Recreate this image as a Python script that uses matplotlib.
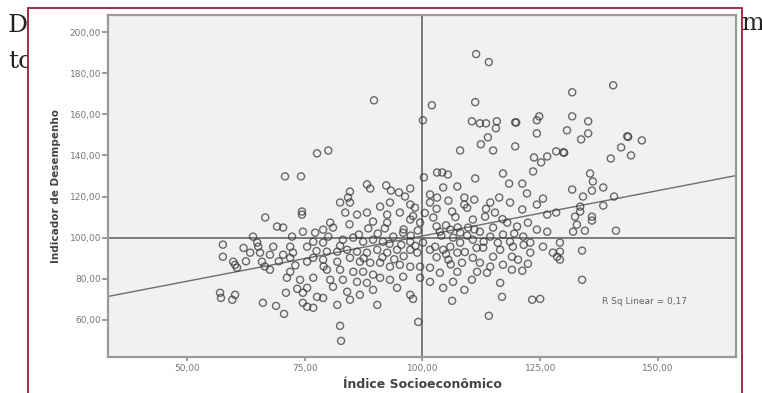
import matplotlib.pyplot as plt
import matplotlib.patches as patches
import numpy as np

# Índice Socioeconômico (x) and Indicador de Desempenho (y)
indice_socio = [
    89.7, 102.0, 100.1, 77.6, 80.0, 70.8, 74.2, 100.3, 103.1,
    88.2, 88.9, 92.3, 93.3, 95.0, 97.4, 84.6, 84.2, 96.3, 101.6, 103.1,
    111.4, 114.1, 111.2, 110.5, 112.2, 113.5, 115.8, 115.6, 119.7, 119.9, 124.3, 124.8, 124.3, 113.9,
    112.4, 115.0, 119.7, 108.0, 123.7, 126.5, 128.4, 125.2, 123.5, 117.1, 111.2, 105.4, 104.2, 107.4,
    104.4, 118.4, 121.2, 122.2, 108.9, 116.3, 125.6,
    140.5, 131.8, 131.8, 135.2, 130.7, 135.2, 133.7, 143.5, 143.7, 146.6, 142.2, 144.3, 140.0, 129.9,
    130.1, 135.6, 136.2, 138.4, 136.0, 131.8, 134.1, 140.7,
    133.5, 133.5, 138.4, 132.4, 136.0, 136.0, 132.8, 132.0, 134.5, 141.1, 133.9, 133.9, 129.2, 129.2, 129.2,
    106.3, 108.9, 114.4, 118.6, 121.2, 124.3, 126.5, 128.4, 113.3, 115.4, 110.7, 109.7, 105.9, 103.7,
    108.0, 112.2, 115.0, 118.0, 120.1, 122.4, 124.3, 126.5, 121.4, 118.6, 117.1, 114.4, 110.7, 108.0,
    105.9, 104.4, 107.4, 112.9, 116.5, 119.2, 122.9, 125.6, 127.7, 128.6, 122.9, 119.0, 120.3, 115.0,
    110.7, 105.5, 108.4, 112.2, 114.4, 117.1, 122.4, 119.0, 121.2, 113.7, 111.6, 107.4, 103.7, 110.5,
    106.5, 104.4, 108.9, 116.5, 116.9, 106.3, 123.3, 125.0, 114.1,
    82.5, 84.6, 91.0, 93.1, 97.4, 98.4, 101.6, 83.6, 86.1, 88.2, 92.5, 95.2, 89.5, 92.5, 97.4, 99.5,
    102.3, 80.4, 78.9, 81.0, 83.1, 85.3, 87.4, 89.5, 91.6, 93.8, 95.9, 97.4, 100.1, 102.7, 78.9, 79.7,
    81.9, 84.0, 86.1, 88.2, 90.4, 92.5, 94.6, 97.4, 98.9, 101.6, 78.9, 81.9, 84.6, 86.7, 88.9, 91.0,
    93.1, 95.2, 97.4, 99.5, 101.6, 79.7, 82.5, 85.3, 87.4, 89.5, 80.4, 83.1, 86.1, 88.2, 91.0, 93.1,
    95.9, 99.5, 101.6, 81.0, 89.5, 94.6, 84.0, 86.7, 78.9, 84.6, 97.4, 98.0, 81.9, 90.4, 99.1, 82.5, 82.7,
    74.4, 74.4, 66.6, 69.1, 70.4, 74.6, 72.3, 77.2, 57.6, 64.9, 65.1, 68.3, 63.4, 65.5, 67.6, 70.4,
    72.5, 71.9, 75.5, 76.8, 57.6, 59.8, 60.2, 60.6, 65.9, 67.6, 71.9, 75.5, 76.8, 71.9, 71.2, 74.0,
    76.8, 73.4, 75.5, 71.0, 74.6, 77.6, 57.0, 57.2, 60.2, 59.6, 66.1, 68.9, 70.6, 74.6, 75.5, 76.8,
    96.0, 97.5, 99.0, 104.0, 106.5, 105.0, 103.0, 107.5, 109.5, 111.0, 86.5, 88.5, 90.5, 92.0, 84.5,
    93.0, 95.5, 98.5, 103.0, 105.0, 106.0, 109.0, 111.5, 113.0, 116.0, 91.5, 94.0, 96.0, 87.5, 82.5,
    80.0, 77.5, 79.0, 73.0, 69.5, 66.5, 62.5, 62.0, 64.0, 98.0, 100.5, 103.0, 105.5, 107.0, 109.5,
    111.0, 113.5, 117.0, 119.5, 121.5,
]
indicador_desemp = [
    166.8, 164.4, 157.1, 141.0, 142.4, 129.8, 129.8, 129.3, 131.7,
    125.9, 123.9, 125.4, 122.9, 122.0, 123.9, 122.4, 119.5, 120.0, 121.0, 119.5,
    189.3, 185.4, 165.9, 156.6, 155.6, 155.6, 156.6, 153.2, 156.1, 156.0, 157.1, 159.0, 150.7, 148.8,
    145.4, 142.4, 144.4, 142.4, 139.0, 139.5, 142.0, 136.6, 132.2, 131.2, 128.8, 130.7, 131.7, 124.9,
    124.4, 126.3, 126.3, 121.5, 119.5, 119.5, 119.0,
    174.1, 170.7, 159.0, 156.6, 152.2, 150.7, 147.8, 149.3, 149.0, 147.3, 143.9, 140.0, 138.5, 141.5,
    141.3, 131.2, 127.3, 124.4, 122.9, 123.4, 120.0, 120.0,
    115.1, 112.7, 115.6, 110.2, 110.2, 108.3, 106.3, 102.9, 103.4, 103.4, 93.7, 79.5, 97.6, 93.2, 89.3,
    112.7, 116.1, 117.1, 117.1, 113.7, 116.1, 111.2, 112.2, 110.2, 112.2, 108.8, 104.9, 103.9, 102.9,
    102.4, 102.9, 104.9, 107.3, 105.4, 107.3, 103.9, 102.9, 100.5, 98.0, 101.5, 100.5, 99.0, 97.6,
    95.6, 94.1, 92.7, 95.1, 94.1, 95.6, 97.6, 95.6, 92.7, 90.7, 92.7, 90.7, 89.3, 90.7,
    90.2, 89.3, 87.8, 87.8, 85.9, 86.8, 87.3, 84.4, 83.9, 82.9, 83.4, 83.4, 82.9, 79.5,
    78.5, 75.6, 74.6, 78.0, 71.2, 69.3, 69.8, 70.2, 62.0,
    117.1, 117.1, 115.1, 117.1, 116.1, 114.6, 117.1, 112.2, 111.2, 112.2, 111.2, 112.2, 107.8, 107.3, 108.8, 107.3,
    109.8, 107.3, 103.9, 104.9, 99.0, 100.0, 98.0, 99.0, 98.0, 100.5, 102.4, 98.0, 97.6, 95.6, 97.6, 93.2,
    93.2, 94.1, 93.2, 92.7, 94.1, 92.7, 94.1, 94.1, 92.7, 94.1, 89.3, 88.3, 90.2, 88.3, 87.8, 87.8,
    85.9, 86.8, 85.9, 85.9, 85.4, 84.4, 84.4, 83.4, 83.4, 82.0, 79.5, 79.5, 78.5, 78.0, 80.5, 79.5,
    81.0, 80.5, 78.5, 76.1, 74.6, 75.6, 73.7, 72.2, 70.7, 69.8, 72.2, 70.2, 67.3, 67.3, 59.0, 57.1, 49.8,
    112.7, 111.2, 109.8, 105.4, 104.9, 102.9, 100.5, 102.4, 96.6, 97.6, 95.6, 95.6, 92.7, 92.7, 91.7, 91.7,
    92.7, 95.6, 95.6, 98.0, 90.7, 88.3, 86.8, 85.4, 88.3, 84.4, 90.2, 88.3, 90.2, 83.4, 80.5, 79.5,
    80.5, 75.1, 75.6, 73.2, 73.2, 71.2, 73.2, 70.7, 72.2, 69.8, 68.3, 66.8, 62.9, 68.3, 66.4, 65.9,
    104.0, 101.0, 103.5, 101.0, 100.0, 106.0, 105.5, 105.0, 101.0, 104.0, 101.5, 104.5, 102.0, 104.5, 106.5,
    97.0, 96.5, 96.0, 90.5, 92.0, 87.0, 93.0, 95.0, 98.0, 97.5, 90.5, 89.5, 91.0, 90.0, 96.0,
    100.5, 93.5, 86.0, 86.5, 88.5, 86.0, 88.5, 95.0, 100.5, 110.5, 112.0, 114.0, 118.0, 110.0, 114.5,
    118.5, 114.0, 109.0, 102.0, 96.5,
]

# fit line as drawn (ends read at the plot edges)
fit_x = [33.2, 166.6]
fit_y = [71.4, 130.2]
x_ticks = [50, 75, 100, 125, 150]
y_ticks = [60, 80, 100, 120, 140, 160, 180, 200]

W, H = 762, 393
fig = plt.figure(figsize=(W / 100, H / 100), dpi=100)
fig.patch.set_facecolor('white')

# page text behind the chart
serif = ['DejaVu Serif']
fig.text(8 / W, 1 - 32 / H, 'D', fontsize=18, family=serif, color='#222222', zorder=-3)
fig.text(8 / W, 1 - 68 / H, 'to', fontsize=18, family=serif, color='#222222', zorder=-3)
fig.text(741 / W, 1 - 30 / H, 'm', fontsize=17, family=serif, color='#222222', zorder=-3)

# white chart box with maroon border
box = patches.Rectangle((28 / W, -0.05), (742 - 28) / W, 1.05 - 8 / H,
                        transform=fig.transFigure, facecolor='white',
                        edgecolor='#9b1c3c', linewidth=1.3, zorder=-2)
fig.patches.append(box)

ax = fig.add_axes([108 / W, 1 - 357 / H, (736 - 108) / W, (357 - 15) / H])
ax.set_facecolor('#f1f1f1')
ax.set_xlim(33.2, 166.6)
ax.set_ylim(41.95, 208.3)

ax.axvline(100, color='#7a7a7a', linewidth=1.4, zorder=1)
ax.axhline(100, color='#7a7a7a', linewidth=1.4, zorder=1)
ax.plot(fit_x, fit_y, color='#6e6e6e', linewidth=1.0, zorder=1)

ax.scatter(indice_socio, indicador_desemp, s=26, facecolors='none',
           edgecolors='#3a3a3a', linewidths=1.0, alpha=0.75, zorder=2)

ax.text(138.1, 68.8, 'R Sq Linear = 0,17', fontsize=6.5, color='#666666',
        va='center', ha='left')

for s in ax.spines.values():
    s.set_color('#9a9a9a')
    s.set_linewidth(1.6)

ax.set_xticks(x_ticks)
ax.set_yticks(y_ticks)
ax.set_xticklabels([f'{v:.2f}'.replace('.', ',') for v in x_ticks])
ax.set_yticklabels([f'{v:.2f}'.replace('.', ',') for v in y_ticks])
ax.tick_params(axis='both', colors='#8a8a8a', labelcolor='#777777', labelsize=6.5,
               length=4, width=1.2)
ax.tick_params(axis='x', pad=2, length=3)
ax.tick_params(axis='y', pad=1)

ax.set_xlabel('Índice Socioeconômico', fontsize=9, fontweight='bold',
              color='#444444', labelpad=4)
ax.set_ylabel('Indicador de Desempenho', fontsize=7.5, fontweight='bold',
              color='#444444', labelpad=6)

fig.savefig('out.png', dpi=100)
